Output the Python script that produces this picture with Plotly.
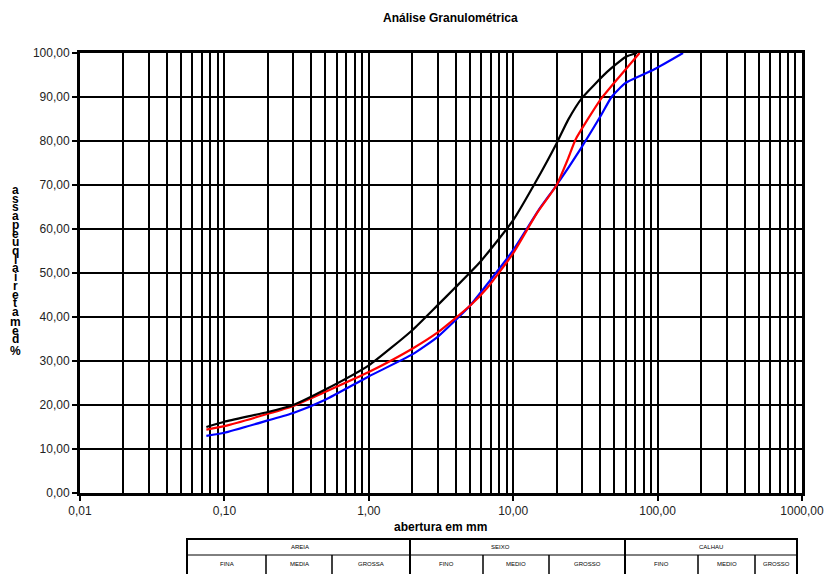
import plotly.graph_objects as go

# ---- data ----
abertura_preto = [0.075, 0.1, 0.2, 0.3, 0.5, 1.0, 2.0, 3.0, 4.0, 5.9, 10.0, 14.2, 20.0, 24.0, 30.0, 44.7, 60.0, 72.0]
passa_preto    = [15.0, 16.2, 18.4, 20.0, 23.5, 29.0, 37.0, 42.7, 46.8, 52.5, 62.0, 70.5, 79.5, 84.8, 89.8, 95.7, 99.1, 100.0]

abertura_verm = [0.075, 0.1, 0.2, 0.3, 0.5, 1.0, 2.0, 3.0, 5.0, 6.6, 10.0, 14.6, 20.0, 24.0, 27.0, 40.0, 54.0, 75.0]
passa_verm    = [14.4, 15.2, 18.0, 19.8, 23.0, 27.5, 32.8, 36.5, 42.5, 46.6, 54.5, 63.6, 70.0, 76.0, 80.3, 89.3, 94.5, 100.0]

abertura_azul = [0.075, 0.1, 0.2, 0.3, 0.5, 1.0, 2.0, 3.0, 5.0, 6.3, 10.0, 15.0, 20.0, 29.0, 40.0, 48.0, 60.0, 95.0, 150.0]
passa_azul    = [13.0, 13.7, 16.5, 18.2, 21.2, 26.5, 31.5, 35.5, 42.5, 46.6, 55.2, 64.3, 70.0, 78.0, 85.5, 90.0, 93.2, 96.3, 100.0]

x_ticks = [0.01, 0.1, 1, 10, 100, 1000]
x_ticklabels = ["0,01", "0,10", "1,00", "10,00", "100,00", "1000,00"]
x_minor = [m * d for d in [0.01, 0.1, 1, 10, 100] for m in range(2, 10)]
y_ticks = [0, 10, 20, 30, 40, 50, 60, 70, 80, 90, 100]
y_ticklabels = ["0,00", "10,00", "20,00", "30,00", "40,00", "50,00", "60,00", "70,00", "80,00", "90,00", "100,00"]

titulo = "Análise Granulométrica"
x_titulo = "abertura em mm"
y_titulo = "% de material que passa"

tabela_sup = ["AREIA", "SEIXO", "CALHAU"]
tabela_inf = ["FINA", "MEDIA", "GROSSA", "FINO", "MEDIO", "GROSSO", "FINO", "MEDIO", "GROSSO"]

# ---- layout geometry (pixels) ----
W, H = 827, 574
L, R, T, B = 80, 802, 53, 493
PW, PH = R - L, B - T

def xp(px):
    return (px - L) / PW

def yp(py):
    return (B - py) / PH

fig = go.Figure()
for xs, ys, col in [(abertura_azul, passa_azul, "#0000FF"),
                    (abertura_verm, passa_verm, "#FF0000"),
                    (abertura_preto, passa_preto, "#000000")]:
    fig.add_trace(go.Scatter(x=xs, y=ys, mode="lines",
                             line=dict(color=col, width=2.2, shape="spline", smoothing=0.5),
                             showlegend=False, hoverinfo="x+y"))

fig.update_layout(
    width=W, height=H,
    margin=dict(l=L, r=W - R, t=T, b=H - B, autoexpand=False),
    paper_bgcolor="white", plot_bgcolor="white",
    font=dict(family="Liberation Sans, Arial, sans-serif", color="black", size=12),
    xaxis=dict(type="log", range=[-2, 3], tickvals=x_ticks, ticktext=x_ticklabels,
               showgrid=True, gridcolor="black", gridwidth=2, automargin=False,
               ticks="outside", ticklen=5, tickwidth=2, tickcolor="black",
               showline=True, linecolor="black", linewidth=3, mirror=True,
               minor=dict(tickvals=x_minor, showgrid=True, gridcolor="black", gridwidth=2, ticklen=0),
               zeroline=False, tickfont=dict(size=12, color="#222")),
    yaxis=dict(range=[0, 100], tickvals=y_ticks, ticktext=y_ticklabels,
               showgrid=True, gridcolor="black", gridwidth=2, automargin=False,
               ticks="outside", ticklen=5, tickwidth=2, tickcolor="black",
               showline=True, linecolor="black", linewidth=3, mirror=True,
               zeroline=False, tickfont=dict(size=12, color="#222")),
)

ann = []
ann.append(dict(text="<b>" + titulo + "</b>", x=xp(450), y=yp(18), xref="paper", yref="paper",
                showarrow=False, font=dict(size=12), xanchor="center", yanchor="middle"))
ann.append(dict(text="<b>" + x_titulo + "</b>", x=xp(440), y=yp(527), xref="paper", yref="paper",
                showarrow=False, font=dict(size=12), xanchor="center", yanchor="middle"))

# stacked vertical y-axis title (letters reversed from top to bottom)
chars = [c for c in y_titulo[::-1] if c != " "]
n_dense = len(chars) - 4
ypos = [190 + i * (312 - 190) / (n_dense - 1) for i in range(n_dense)] + [322, 331, 339, 351]
for c, py in zip(chars, ypos):
    ann.append(dict(text="<b>" + c + "</b>", x=xp(15), y=yp(py), xref="paper", yref="paper",
                    showarrow=False, font=dict(size=12), xanchor="center", yanchor="middle"))

# bottom classification table
edges = [187, 266, 332, 410, 483, 549, 625, 698, 755, 797]
top, mid, bot = 539, 555, 577
shapes = []
shapes.append(dict(type="rect", xref="paper", yref="paper", x0=xp(edges[0]), x1=xp(edges[-1]),
                   y0=yp(top), y1=yp(bot), line=dict(color="black", width=2)))
shapes.append(dict(type="line", xref="paper", yref="paper", x0=xp(edges[0]), x1=xp(edges[-1]),
                   y0=yp(mid), y1=yp(mid), line=dict(color="black", width=1)))
for i, e in enumerate(edges[1:-1], start=1):
    major = i in (3, 6)
    shapes.append(dict(type="line", xref="paper", yref="paper", x0=xp(e), x1=xp(e),
                       y0=yp(top if major else mid), y1=yp(bot),
                       line=dict(color="black", width=2 if major else 1.5)))
sup_x = [300, 500, 711]
for t, px in zip(tabela_sup, sup_x):
    ann.append(dict(text=t, x=xp(px), y=yp(547), xref="paper", yref="paper", showarrow=False,
                    font=dict(size=6), xanchor="center", yanchor="middle"))
for i, t in enumerate(tabela_inf):
    px = (edges[i] + edges[i + 1]) / 2
    ann.append(dict(text=t, x=xp(px), y=yp(564), xref="paper", yref="paper", showarrow=False,
                    font=dict(size=6), xanchor="center", yanchor="middle"))

fig.update_layout(annotations=ann, shapes=shapes)
fig.write_html("out.html", config={"displayModeBar": False},
               post_script="document.body.style.margin='0';document.body.style.overflow='hidden';")
